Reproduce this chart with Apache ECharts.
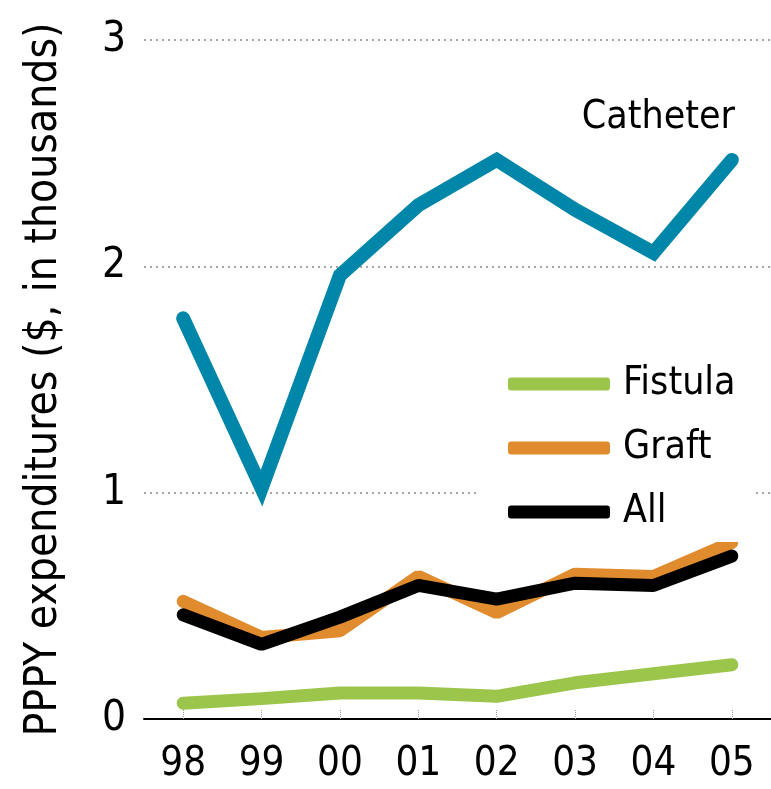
<!DOCTYPE html>
<html>
<head>
<meta charset="utf-8">
<script src="https://cdn.jsdelivr.net/npm/echarts@6/dist/echarts.min.js"></script>
<style>
html,body{margin:0;padding:0;background:#fff;}
#c{width:771px;height:789px;}
</style>
</head>
<body>
<div id="c"></div>
<script>
var categories = ['98','99','00','01','02','03','04','05'];
var catheter = [1.77, 1.02, 1.96, 2.27, 2.47, 2.25, 2.06, 2.47];
var graft    = [0.52, 0.36, 0.39, 0.63, 0.47, 0.64, 0.63, 0.78];
var all      = [0.46, 0.33, 0.45, 0.59, 0.53, 0.60, 0.59, 0.72];
var fistula  = [0.07, 0.09, 0.115, 0.115, 0.10, 0.16, 0.20, 0.24];
var yTicks = [0, 1, 2, 3];

var FONT = '"DejaVu Sans Condensed", "Liberation Sans Narrow", "Liberation Sans", sans-serif';
var chart = echarts.init(document.getElementById('c'));
chart.setOption({
  animation: false,
  backgroundColor: '#fff',
  textStyle: { fontFamily: FONT },
  grid: { left: 144, right: -1, top: 40, bottom: 70, containLabel: false },
  xAxis: {
    type: 'category',
    data: categories,
    boundaryGap: true,
    axisLine: { show: true, lineStyle: { color: '#000', width: 2 } },
    axisTick: { show: true, inside: true, alignWithLabel: true, length: 10, lineStyle: { color: '#999', type: 'dotted', width: 1 } },
    axisLabel: { color: '#000', fontSize: 40, fontFamily: FONT, margin: 26, lineHeight: 40 },
    splitLine: { show: false }
  },
  yAxis: {
    type: 'value',
    min: 0, max: 3, interval: 1,
    name: 'PPPY expenditures ($, in thousands)',
    nameLocation: 'middle',
    nameGap: 77,
    nameRotate: 90,
    nameTextStyle: { color: '#000', fontSize: 44, fontFamily: FONT },
    axisLine: { show: false },
    axisTick: { show: false },
    axisLabel: { color: '#000', fontSize: 42, fontFamily: FONT, margin: 18,
      formatter: function (v) { return yTicks.indexOf(v) >= 0 ? String(v) : ''; } },
    splitLine: { show: true, lineStyle: { color: '#888', type: [2, 4], width: 1.5 } }
  },
  legend: {
    orient: 'vertical',
    left: 480, top: 354,
    backgroundColor: '#fff',
    padding: [8, 20, 8, 28],
    itemWidth: 102, itemHeight: 13,
    itemGap: 20,
    icon: 'roundRect',
    data: ['Fistula', 'Graft', 'All'],
    textStyle: { color: '#000', fontSize: 39, fontFamily: FONT, lineHeight: 44, padding: [0, 0, 0, 8] }
  },
  graphic: [{
    type: 'text',
    right: 36, top: 98,
    style: { text: 'Catheter', fill: '#000', font: '39px ' + FONT }
  }],
  series: [
    { name: 'Catheter', type: 'line', data: catheter, symbol: 'none', z: 3,
      lineStyle: { color: '#0086A8', width: 14, join: 'miter', cap: 'round' }, itemStyle: { color: '#0086A8' } },
    { name: 'Fistula', type: 'line', data: fistula, symbol: 'none', z: 3,
      lineStyle: { color: '#9CC54B', width: 13, cap: 'round' }, itemStyle: { color: '#9CC54B' } },
    { name: 'Graft', type: 'line', data: graft, symbol: 'none', z: 3,
      lineStyle: { color: '#E08C2E', width: 13, cap: 'round' }, itemStyle: { color: '#E08C2E' } },
    { name: 'All', type: 'line', data: all, symbol: 'none', z: 4,
      lineStyle: { color: '#000', width: 13, cap: 'round' }, itemStyle: { color: '#000' } }
  ]
});
</script>
</body>
</html>
